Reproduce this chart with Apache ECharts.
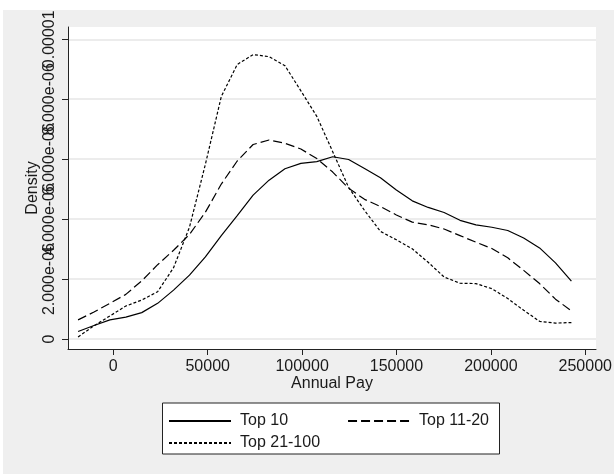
<!DOCTYPE html>
<html><head><meta charset="utf-8">
<script src="https://cdn.jsdelivr.net/npm/echarts@6/dist/echarts.min.js"></script>
<style>html,body{margin:0;padding:0;background:#fff}#c{width:614px;height:474px}</style>
</head><body><div id="c"></div>
<script>
// Annual pay grid (x) at which the densities are evaluated
const annualPay = [-18660, -10230, -1800, 6630, 15060, 23490, 31920, 40350, 48780, 57210,
  65640, 74070, 82500, 90930, 99360, 107790, 116220, 124650, 133080, 141510,
  149940, 158370, 166800, 175230, 183660, 192090, 200520, 208950, 217380, 225810,
  234240, 242670];
// Densities, in units of 1e-6
const DENSITY_UNIT = 1e-6;
const top10 = [0.25, 0.45, 0.64, 0.73, 0.88, 1.19, 1.63, 2.13, 2.74, 3.45, 4.12, 4.80, 5.30, 5.68, 5.86, 5.92,
  6.08, 5.99, 5.69, 5.38, 4.97, 4.61, 4.39, 4.22, 3.96, 3.81, 3.73, 3.62, 3.37, 3.04, 2.54, 1.93];
const top11to20 = [0.64, 0.90, 1.19, 1.49, 1.94, 2.48, 2.96, 3.49, 4.23, 5.17, 5.94, 6.49, 6.64, 6.53, 6.34, 6.02,
  5.57, 5.03, 4.66, 4.42, 4.14, 3.90, 3.81, 3.67, 3.45, 3.23, 3.02, 2.71, 2.29, 1.85, 1.33, 0.94];
const top21to100 = [0.07, 0.44, 0.77, 1.10, 1.30, 1.58, 2.38, 3.73, 5.83, 8.09, 9.16, 9.49, 9.42, 9.12, 8.28, 7.43,
  6.25, 5.06, 4.29, 3.59, 3.31, 3.01, 2.56, 2.07, 1.86, 1.85, 1.68, 1.35, 0.96, 0.59, 0.53, 0.55];
const seriesNames = ['Top 10', 'Top 11-20', 'Top 21-100'];
const xTickValues = [0, 50000, 100000, 150000, 200000, 250000];
const xTickLabels = ['0', '50000', '100000', '150000', '200000', '250000'];
const yTickValues = [0, 2e-6, 4e-6, 6e-6, 8e-6, 1e-5];
const yTickLabels = ['0', '2.000e-06', '4.000e-06', '6.000e-06', '8.000e-06', '0.00001'];

const FONT = "'Liberation Sans', Arial, Helvetica, sans-serif";
const TXT = '#1a1a1a';
const Y_MIN = -0.333e-6, Y_MAX = 10.41e-6;
function pairs(ys) { return annualPay.map((x, i) => [x, ys[i] * DENSITY_UNIT]); }
function labelFor(values, labels) {
  return v => { for (let i = 0; i < values.length; i++) if (Math.abs(v - values[i]) <= Math.abs(values[i]) * 1e-9 + 1e-15) return labels[i]; return ''; };
}
const dashes = ['solid', [9, 4], [3, 2]];
const datas = [top10, top11to20, top21to100];
const legendCommon = {
  orient: 'horizontal', padding: 0, itemWidth: 62, itemHeight: 16, itemGap: 59, selectedMode: false,
  itemStyle: { color: 'rgba(0,0,0,0)', borderColor: 'rgba(0,0,0,0)', borderWidth: 0, opacity: 0 },
  lineStyle: { opacity: 1 },
  textStyle: { fontFamily: FONT, fontSize: 16, color: TXT, lineHeight: 16, padding: [0, 0, 0, 4] }
};
// The overlapping rotated labels are split over two coincident y axes so none gets hidden
const yEven = yTickValues.filter((_, i) => i % 2 === 0);
const yOdd = yTickValues.filter((_, i) => i % 2 === 1);
const yLabelStyle = { formatter: labelFor(yTickValues, yTickLabels), rotate: 90, margin: 10,
  fontFamily: FONT, fontSize: 16, color: TXT, hideOverlap: false, showMinLabel: true, showMaxLabel: true };

const chart = echarts.init(document.getElementById('c'), null, { renderer: 'canvas' });
chart.setOption({
  animation: false,
  backgroundColor: '#efefef',
  textStyle: { fontFamily: FONT },
  graphic: [
    { type: 'rect', shape: { x: 0, y: 0, width: 614, height: 10 }, style: { fill: '#fff' }, silent: true },
    { type: 'rect', shape: { x: 0, y: 0, width: 3, height: 474 }, style: { fill: '#fff' }, silent: true },
    { type: 'rect', shape: { x: 162.5, y: 403, width: 337, height: 51 }, style: { fill: '#fff', stroke: '#222', lineWidth: 1 }, silent: true }
  ],
  grid: { left: 68, right: 18, top: 27, bottom: 125, show: true, backgroundColor: '#fff', borderWidth: 0, outerBoundsMode: 'none' },
  legend: [
    Object.assign({ data: [seriesNames[0], seriesNames[1]], left: 168, top: 413 }, legendCommon),
    Object.assign({ data: [seriesNames[2]], left: 168, top: 435 }, legendCommon)
  ],
  xAxis: {
    type: 'value', min: -24000, max: 255700,
    name: 'Annual Pay', nameLocation: 'middle', nameGap: 27, nameMoveOverlap: false,
    nameTextStyle: { fontFamily: FONT, fontSize: 16, color: TXT },
    axisLine: { show: true, onZero: false, lineStyle: { color: '#222', width: 1 } },
    axisTick: { show: true, length: 6, customValues: xTickValues, lineStyle: { color: '#222', width: 1 } },
    axisLabel: { customValues: xTickValues, formatter: labelFor(xTickValues, xTickLabels), margin: 10,
      fontFamily: FONT, fontSize: 16, color: TXT, showMinLabel: true, showMaxLabel: true },
    splitLine: { show: false }
  },
  yAxis: [{
    type: 'value', min: Y_MIN, max: Y_MAX, position: 'left',
    name: 'Density', nameLocation: 'middle', nameGap: 27, nameRotate: 90, nameMoveOverlap: false,
    nameTextStyle: { fontFamily: FONT, fontSize: 16, color: TXT },
    axisLine: { show: true, onZero: false, lineStyle: { color: '#222', width: 1 } },
    axisTick: { show: true, length: 6, customValues: yTickValues, lineStyle: { color: '#222', width: 1 } },
    axisLabel: Object.assign({ customValues: yEven }, yLabelStyle),
    splitLine: { show: true, lineStyle: { color: '#e6e6e6', width: 1.6 } }
  }, {
    type: 'value', min: Y_MIN, max: Y_MAX, position: 'left', offset: 0,
    axisLine: { show: false }, axisTick: { show: false }, splitLine: { show: false },
    axisLabel: Object.assign({ customValues: yOdd }, yLabelStyle)
  }],
  series: seriesNames.map((n, k) => ({
    name: n, type: 'line', data: pairs(datas[k]), symbol: 'none', showSymbol: false, smooth: false, yAxisIndex: 0,
    lineStyle: { color: '#000', width: 1.2, type: dashes[k] }, itemStyle: { color: '#000' }
  }))
});
</script></body></html>
